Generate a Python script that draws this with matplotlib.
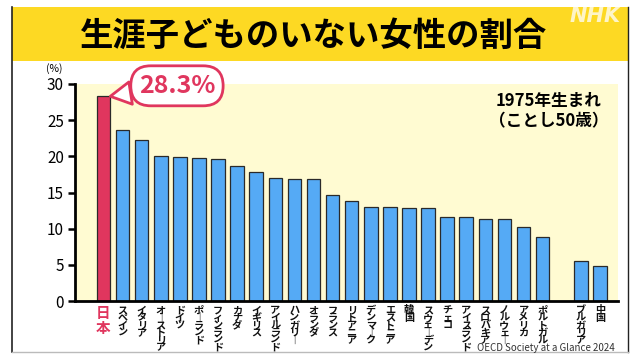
import matplotlib
matplotlib.use("Agg")
import matplotlib.pyplot as plt
from matplotlib.patches import Rectangle
from matplotlib.lines import Line2D
import numpy as np

plt.rcParams['font.family'] = ['Noto Sans CJK JP', 'DejaVu Sans']

# OECD countries (Japan first), then non-OECD after a gap
oecd = ["日本", "スペイン", "イタリア", "オーストリア", "ドイツ", "ポーランド", "フィンランド",
        "カナダ", "イギリス", "アイルランド", "ハンガリー", "オランダ", "フランス", "リトアニア",
        "デンマーク", "エストニア", "韓国", "スウェーデン", "チェコ", "アイスランド", "スロバキア",
        "ノルウェー", "アメリカ", "ポルトガル"]
oecd_vals = [28.3, 23.7, 22.3, 20.0, 19.9, 19.8, 19.7, 18.7, 17.8, 17.0, 16.9, 16.8, 14.7, 13.8,
             13.0, 13.0, 12.9, 12.9, 11.6, 11.6, 11.4, 11.3, 10.2, 8.8]
other = ["ブルガリア", "中国"]
other_vals = [5.5, 4.8]
yticks = [0, 5, 10, 15, 20, 25, 30]

RED = "#e0365e"
BLUE = "#55aaf5"
CREAM = "#fffbd2"
YEL = "#fdd923"

fig = plt.figure(figsize=(6.4, 3.6), dpi=100)
fig.patch.set_facecolor("white")

# frame + title band
fig.patches.append(Rectangle((12/640, 1-61/360), 616/640, 54/360, transform=fig.transFigure,
                             facecolor=YEL, edgecolor="none", zorder=0))
fig.lines.append(Line2D([12/640, 12/640], [1-7/360, 1-352/360], transform=fig.transFigure, color="#222", lw=1.2))
fig.lines.append(Line2D([628/640, 628/640], [1-7/360, 1-352/360], transform=fig.transFigure, color="#222", lw=1.0))
fig.lines.append(Line2D([12/640, 628/640], [1-352/360, 1-352/360], transform=fig.transFigure, color="#bbb", lw=1.0))
fig.text(0.49, 1-36/360, "生涯子どものいない女性の割合", ha="center", va="center",
         fontsize=24, fontweight="bold", color="black")
fig.text(0.97, 1-16/360, "NHK", ha="right", va="center", fontsize=15, fontweight="bold",
         style="italic", color="white", alpha=0.75, family="DejaVu Sans")

ax = fig.add_axes([75/640, 1-301/360, 543/640, 217/360])
ax.set_facecolor(CREAM)

x1 = np.arange(len(oecd))
x2 = np.arange(len(other)) + len(oecd) + 1
cols = [RED] + [BLUE] * (len(oecd) - 1)
ax.bar(x1, oecd_vals, width=0.71, color=cols, edgecolor="#2a2a2a", linewidth=0.9, zorder=3)
ax.bar(x2, other_vals, width=0.71, color=BLUE, edgecolor="#2a2a2a", linewidth=0.9, zorder=3)

ax.set_xlim(-1.49, 26.95)
ax.set_ylim(0, 30)
ax.set_yticks(yticks)
ax.set_yticklabels([str(t) for t in yticks], fontsize=11)
ax.tick_params(axis="y", length=5, width=1.8, pad=3)
ax.set_xticks([])
for s in ["top", "right"]:
    ax.spines[s].set_visible(False)
for s in ["left", "bottom"]:
    ax.spines[s].set_linewidth(2)
    ax.spines[s].set_zorder(4)
ax.text(-0.038, 1.045, "(%)", transform=ax.transAxes, fontsize=7.5, ha="center", va="bottom")

def vert(s):
    return "\n".join(ch if ch != "ー" else "｜" for ch in s)

tr = ax.get_xaxis_transform()
for xi, name in zip(list(x1) + list(x2), oecd + other):
    if name == "日本":
        ax.text(xi, -0.02, vert(name), transform=tr, ha="center", va="top", fontsize=10.5,
                fontweight="bold", color=RED, linespacing=0.9)
    else:
        ax.text(xi, -0.02, vert(name), transform=tr, ha="center", va="top", fontsize=7.3,
                fontweight="bold", color="#111", linespacing=0.68)

# callout for Japan
ax.annotate("28.3%", xy=(0.36, oecd_vals[0]), xytext=(3.85, 29.75), ha="center", va="center",
            fontsize=18, fontweight="bold", color=RED, annotation_clip=False,
            bbox=dict(boxstyle="round,pad=0.32,rounding_size=0.8", fc="white", ec=RED, lw=2),
            arrowprops=dict(arrowstyle="wedge,tail_width=0.9", fc="white", ec=RED, lw=2,
                            shrinkA=0, shrinkB=0))

ax.text(23.3, 28.9, "1975年生まれ\n（ことし50歳）", ha="center", va="top", fontsize=12,
        fontweight="semibold", linespacing=1.15)

fig.text(615/640, 1-348/360, "OECD Society at a Glance 2024", ha="right", va="center",
         fontsize=7, color="#333")

fig.savefig("out.png", dpi=100)
